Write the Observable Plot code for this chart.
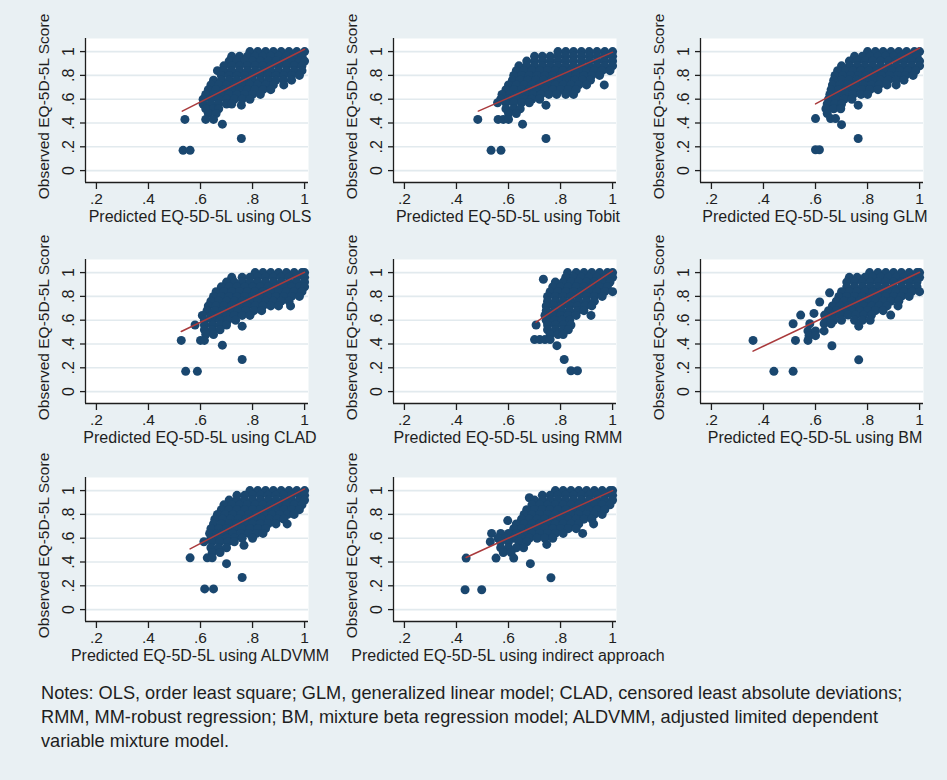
<!DOCTYPE html>
<html><head><meta charset="utf-8">
<script src="https://cdn.jsdelivr.net/npm/d3@7"></script>
<script src="https://cdn.jsdelivr.net/npm/@observablehq/plot@0.6"></script>
<style>
html,body{margin:0;padding:0;background:#e9f0f3;}
#wrap{position:relative;width:947px;height:780px;overflow:hidden;background:#e9f0f3;font-family:"Liberation Sans",Arial,sans-serif;}
.panel{position:absolute;}
#notes{position:absolute;left:41px;top:681px;font-size:18.2px;line-height:24px;color:#1e1e1e;white-space:nowrap;}
</style></head>
<body><div id="wrap"><div id="notes"></div></div>
<script>
// ---- data ----
const models = ["OLS","Tobit","GLM","CLAD","RMM","BM","ALDVMM","indirect approach"];
const yTitle = "Observed EQ-5D-5L Score";
const xTitlePrefix = "Predicted EQ-5D-5L using ";
const xTicks = [0.2,0.4,0.6,0.8,1];
const xTickLabels = [".2",".4",".6",".8","1"];
const yTicks = [0,0.2,0.4,0.6,0.8,1];
const yTickLabels = ["0",".2",".4",".6",".8","1"];
const noteLines = [
  "Notes: OLS, order least square; GLM, generalized linear model; CLAD, censored least absolute deviations;",
  "RMM, MM-robust regression; BM, mixture beta regression model; ALDVMM, adjusted limited dependent",
  "variable mixture model."
];

// rows: [observed score, [predicted values ...]]
const olsRows = [
  [1.00,[.79,.82,.85,.88,.91,.94,.97,1.0]],
  [0.96,[.72,.75,.78,.81,.84,.87,.90,.93,.96,.99]],
  [0.92,[.71,.74,.77,.80,.83,.86,.89,.92,.95,.98,1.0]],
  [0.88,[.69,.72,.75,.78,.81,.84,.87,.90,.93,.96,.99]],
  [0.84,[.665,.69,.72,.75,.78,.81,.84,.87,.90,.93,.96,.99]],
  [0.80,[.68,.71,.74,.77,.80,.83,.86,.89,.92,.95,.98]],
  [0.76,[.65,.68,.71,.74,.77,.80,.83,.86,.89,.92,.95]],
  [0.72,[.64,.67,.70,.73,.76,.79,.82,.85,.88,.92]],
  [0.68,[.63,.66,.69,.72,.75,.78,.81,.84,.87]],
  [0.64,[.62,.65,.68,.71,.74,.77,.80,.83]],
  [0.60,[.61,.64,.67,.70,.73,.76,.79]],
  [0.56,[.61,.64,.67,.70,.72]],
  [0.55,[.757]],
  [0.52,[.62,.65,.67]],
  [0.48,[.63,.66]],
  [0.43,[.54,.62,.65]],
  [0.39,[.684]],
  [0.27,[.757]],
  [0.17,[.533,.56]]
];
const tobitRows = [
  [1.00,[.79,.82,.85,.88,.91,.94,.97,1.0]],
  [0.96,[.70,.73,.76,.79,.82,.85,.88,.91,.94,.97,1.0]],
  [0.92,[.67,.70,.73,.76,.79,.82,.85,.88,.91,.94,.97,1.0]],
  [0.88,[.64,.67,.70,.73,.76,.79,.82,.85,.88,.91,.94,.97,1.0]],
  [0.84,[.63,.66,.69,.72,.75,.78,.81,.84,.87,.90,.93,.96,.99]],
  [0.80,[.62,.65,.68,.71,.74,.77,.80,.83,.86,.89,.92,.95]],
  [0.76,[.615,.645,.675,.705,.735,.765,.795,.825,.855,.885,.915]],
  [0.72,[.60,.63,.66,.69,.72,.75,.78,.81,.84,.87,.90,.968]],
  [0.68,[.59,.62,.65,.68,.71,.74,.77,.80,.83,.86]],
  [0.64,[.575,.605,.635,.665,.695,.725,.755,.785,.82,.85]],
  [0.60,[.57,.60,.63,.66,.69,.72]],
  [0.57,[.558,.59,.62,.65,.68]],
  [0.55,[.744]],
  [0.52,[.59,.62,.645]],
  [0.48,[.60,.63]],
  [0.43,[.482,.56,.58,.60]],
  [0.39,[.654]],
  [0.27,[.744]],
  [0.17,[.533,.571]]
];
const glmRows = [
  [1.00,[.80,.83,.86,.89,.92,.95,.98,1.0]],
  [0.96,[.75,.78,.81,.84,.87,.90,.93,.96,.99]],
  [0.92,[.73,.76,.79,.82,.85,.88,.91,.94,.97,1.0]],
  [0.88,[.70,.73,.76,.79,.82,.85,.88,.91,.94,.97,1.0]],
  [0.84,[.685,.715,.745,.775,.805,.835,.865,.895,.925,.955,.985]],
  [0.80,[.675,.705,.735,.765,.795,.825,.855,.885,.915,.945,.975]],
  [0.76,[.67,.70,.73,.76,.79,.82,.85,.88,.91,.94]],
  [0.72,[.665,.695,.725,.755,.785,.815,.845,.875,.91]],
  [0.68,[.66,.69,.72,.75,.78,.81,.84]],
  [0.64,[.655,.685,.715,.745,.775,.80]],
  [0.60,[.65,.68,.71,.74]],
  [0.56,[.645,.675,.70]],
  [0.55,[.764]],
  [0.52,[.64,.67,.697]],
  [0.48,[.645]],
  [0.437,[.60,.658,.677]],
  [0.386,[.70]],
  [0.27,[.764]],
  [0.175,[.60,.615]]
];
const cladRows = [
  [1.00,[.81,.84,.87,.90,.93,.96,.99,1.0]],
  [0.96,[.72,.76,.79,.82,.85,.88,.91,.94,.97,1.0]],
  [0.92,[.70,.73,.76,.79,.82,.85,.88,.91,.94,.97,1.0]],
  [0.88,[.68,.71,.74,.77,.80,.83,.86,.89,.92,.95,.98,1.0]],
  [0.84,[.66,.69,.72,.75,.78,.81,.84,.87,.90,.93,.96,.99]],
  [0.80,[.65,.68,.71,.74,.77,.80,.83,.86,.89,.92,.95,.98]],
  [0.76,[.64,.67,.70,.73,.76,.79,.82,.85,.88,.91,.94]],
  [0.72,[.63,.66,.69,.72,.75,.78,.81,.84,.87,.90,.946]],
  [0.68,[.625,.655,.685,.715,.745,.775,.805,.835]],
  [0.64,[.607,.64,.67,.70,.73,.76,.79]],
  [0.60,[.615,.645,.675,.705,.735]],
  [0.56,[.579,.615,.645,.675,.70]],
  [0.55,[.76]],
  [0.52,[.615,.645,.675]],
  [0.48,[.62,.65]],
  [0.43,[.526,.60,.615]],
  [0.39,[.684]],
  [0.27,[.76]],
  [0.17,[.543,.588]]
];
const rmmRows = [
  [1.00,[.827,.86,.89,.92,.95,.98,1.0]],
  [0.96,[.82,.85,.88,.91,.94,.97,1.0]],
  [0.944,[.734]],
  [0.92,[.78,.81,.84,.87,.90,.93,.96,.99]],
  [0.88,[.77,.80,.83,.86,.89,.92,.95,.98]],
  [0.84,[.76,.79,.82,.85,.88,.91,.94,.97,1.0]],
  [0.80,[.75,.78,.81,.84,.87,.90,.93,.96]],
  [0.76,[.75,.78,.81,.84,.87,.90,.93]],
  [0.72,[.745,.775,.805,.835,.865,.895,.92]],
  [0.68,[.745,.775,.805,.835,.865,.89]],
  [0.64,[.74,.77,.80,.83,.86,.917]],
  [0.60,[.745,.775,.805,.835]],
  [0.56,[.706,.75,.78,.81,.84]],
  [0.52,[.75,.78,.81,.83]],
  [0.48,[.76,.79,.81]],
  [0.437,[.70,.72,.74,.76]],
  [0.386,[.786]],
  [0.27,[.814]],
  [0.175,[.84,.865]]
];
const bmRows = [
  [1.00,[.808,.84,.87,.90,.93,.96,.99,1.0]],
  [0.96,[.73,.76,.79,.82,.85,.88,.91,.94,.97,1.0]],
  [0.92,[.72,.75,.78,.81,.84,.87,.90,.93,.96,.99]],
  [0.88,[.72,.75,.78,.81,.84,.87,.90,.93,.96,.99]],
  [0.84,[.70,.73,.76,.79,.82,.85,.88,.91,.94,.97,1.0]],
  [0.83,[.654]],
  [0.80,[.69,.72,.75,.78,.81,.84,.87,.90,.93,.96]],
  [0.76,[.68,.71,.74,.77,.80,.83,.86,.89,.92]],
  [0.753,[.616]],
  [0.72,[.665,.695,.725,.755,.785,.815,.845,.875,.917]],
  [0.68,[.65,.68,.71,.74,.77,.80,.83,.86]],
  [0.657,[.594]],
  [0.643,[.543,.635,.665,.695,.725,.755,.785,.815,.889]],
  [0.60,[.64,.67,.70,.75,.78,.81]],
  [0.57,[.514,.578,.633,.66]],
  [0.55,[.766]],
  [0.51,[.571,.60,.633]],
  [0.47,[.575,.60]],
  [0.43,[.36,.523,.571]],
  [0.385,[.663]],
  [0.267,[.766]],
  [0.17,[.44,.514]]
];
const aldvmmRows = [
  [1.00,[.79,.82,.85,.88,.91,.94,.97,1.0]],
  [0.96,[.74,.77,.80,.83,.86,.89,.92,.95,.98,1.0]],
  [0.92,[.71,.74,.77,.80,.83,.86,.89,.92,.95,.98,1.0]],
  [0.88,[.69,.72,.75,.78,.81,.84,.87,.90,.93,.96,.99]],
  [0.84,[.68,.71,.74,.77,.80,.83,.86,.89,.92,.95,.98]],
  [0.80,[.665,.695,.725,.755,.785,.815,.845,.875,.905,.935,.96]],
  [0.76,[.655,.685,.715,.745,.775,.805,.835,.865,.895,.92]],
  [0.72,[.65,.68,.71,.74,.77,.80,.83,.86,.89,.933]],
  [0.68,[.64,.67,.70,.73,.76,.79,.82,.85]],
  [0.64,[.635,.665,.695,.725,.755,.785,.815,.84]],
  [0.60,[.64,.67,.70,.73,.76,.80]],
  [0.57,[.613,.645,.675,.705,.73]],
  [0.54,[.767]],
  [0.52,[.64,.67,.70]],
  [0.48,[.645,.675]],
  [0.435,[.56,.626,.645]],
  [0.386,[.70]],
  [0.27,[.76]],
  [0.174,[.616,.65]]
];
const indirectRows = [
  [1.00,[.78,.81,.84,.87,.90,.93,.96,.99,1.0]],
  [0.96,[.73,.76,.79,.82,.85,.88,.91,.94,.97,1.0]],
  [0.94,[.68]],
  [0.92,[.70,.73,.76,.79,.82,.85,.88,.91,.94,.97,1.0]],
  [0.88,[.69,.72,.75,.78,.81,.84,.87,.90,.93,.96,.99]],
  [0.84,[.67,.70,.73,.76,.79,.82,.85,.88,.91,.94,.97]],
  [0.80,[.66,.69,.72,.75,.78,.81,.84,.87,.90,.93,.96]],
  [0.76,[.65,.68,.71,.74,.77,.80,.83,.86,.89,.92]],
  [0.748,[.597]],
  [0.72,[.63,.66,.69,.72,.75,.78,.81,.84,.87,.927]],
  [0.68,[.62,.65,.68,.71,.74,.77,.80,.83,.86]],
  [0.64,[.535,.57,.60,.63,.66,.69,.72,.75,.78,.81,.885]],
  [0.60,[.56,.59,.62,.65,.68,.71,.74,.77]],
  [0.57,[.53,.57,.60,.64,.67]],
  [0.548,[.747]],
  [0.52,[.57,.60,.63,.658]],
  [0.48,[.58,.61]],
  [0.433,[.437,.552,.62]],
  [0.386,[.684]],
  [0.268,[.763]],
  [0.167,[.433,.497]]
];
// fitted line end points [predicted, observed]
const olsFit = [[.53,.50],[1.0,1.02]];
const tobitFit = [[.484,.50],[1.0,.995]];
const glmFit = [[.60,.56],[1.0,1.03]];
const cladFit = [[.526,.505],[1.0,1.003]];
const rmmFit = [[.706,.583],[1.0,1.014]];
const bmFit = [[.36,.34],[1.0,1.003]];
const aldvmmFit = [[.56,.51],[1.0,1.014]];
const indirectFit = [[.437,.438],[1.0,1.0]];

const panelRows = [olsRows,tobitRows,glmRows,cladRows,rmmRows,bmRows,aldvmmRows,indirectRows];
const panelFits = [olsFit,tobitFit,glmFit,cladFit,rmmFit,bmFit,aldvmmFit,indirectFit];

// ---- layout ----
const colLeft = [30, 338, 645];
const rowTop = [10, 231, 449];
const FONT = '"Liberation Sans", Arial, sans-serif';
const NAVY = "#1a476f", MAROON = "#a93a3c", INK = "#1e1e1e";
const fmtX = d => xTickLabels[xTicks.indexOf(d)];
const fmtY = d => yTickLabels[yTicks.indexOf(d)];

function panel(rows, fit, label) {
  const pts = rows.flatMap(([y, xs]) => xs.map(x => ({x, y})));
  return Plot.plot({
    width: 348, height: 220,
    marginLeft: 55, marginRight: 70, marginTop: 28, marginBottom: 48,
    style: {background: "transparent", fontFamily: FONT, fontSize: "16px", color: INK, overflow: "visible"},
    x: {domain: [0.158, 1.015]},
    y: {domain: [-0.1, 1.11]},
    marks: [
      Plot.frame({fill: "white", stroke: "none"}),
      Plot.gridY(yTicks, {stroke: "#e2eaee", strokeOpacity: 1, strokeWidth: 1.6}),
      Plot.dot(pts, {x: "x", y: "y", r: 4.5, fill: NAVY}),
      Plot.line(fit, {x: d => d[0], y: d => d[1], stroke: MAROON, strokeWidth: 1.5}),
      Plot.ruleX([0.158], {stroke: INK, strokeWidth: 1.3}),
      Plot.ruleY([-0.1], {stroke: INK, strokeWidth: 1.3}),
      Plot.axisX(xTicks, {tickSize: 7, tickPadding: 3, tickFormat: fmtX, label: null, fontSize: 15.5, stroke: INK, strokeWidth: 1.3}),
      Plot.axisY(yTicks, {tickSize: 5, tickFormat: () => "", label: null, stroke: INK, strokeWidth: 1.3}),
      Plot.text(yTicks, {y: d => d, text: fmtY, frameAnchor: "left", dx: -17, rotate: -90, textAnchor: "middle", lineAnchor: "middle", fontSize: 16, fill: INK}),
      Plot.text([yTitle], {text: d => d, frameAnchor: "left", dx: -41, dy: -4, rotate: -90, textAnchor: "middle", lineAnchor: "middle", fontSize: 15.5, fill: INK}),
      Plot.text([xTitlePrefix + label], {text: d => d, frameAnchor: "bottom", dx: 3, dy: 28, lineAnchor: "top", textAnchor: "middle", fontSize: 16, fill: INK})
    ]
  });
}

const wrap = document.getElementById("wrap");
models.forEach((m, i) => {
  const el = panel(panelRows[i], panelFits[i], m);
  el.classList.add("panel");
  el.style.left = colLeft[i % 3] + "px";
  el.style.top = rowTop[Math.floor(i / 3)] + "px";
  wrap.appendChild(el);
});
const notes = document.getElementById("notes");
noteLines.forEach(t => { const d = document.createElement("div"); d.textContent = t; notes.appendChild(d); });
</script>
</body></html>
